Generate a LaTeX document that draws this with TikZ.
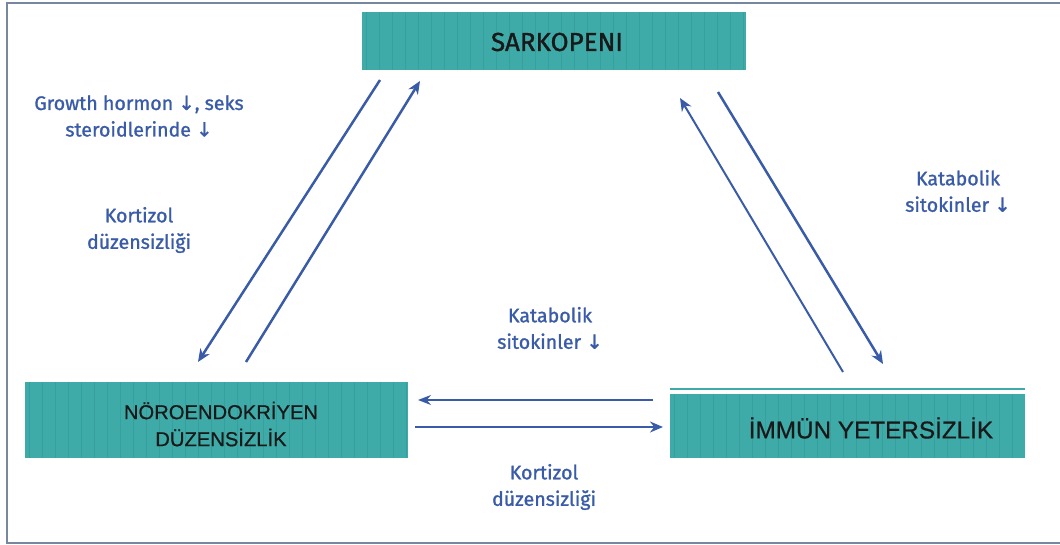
\documentclass[tikz,border=0pt]{standalone}
\usepackage{fontspec}
\setmainfont{Fira Sans}[FakeBold=1.2]
\newfontfamily\boxfont{Liberation Sans}[FakeBold=0.6]
\newfontfamily\symfont{DejaVu Sans}[FakeBold=1]
\usetikzlibrary{arrows.meta}
\definecolor{teal1}{RGB}{62,171,169}
\definecolor{teal2}{RGB}{40,140,140}
\definecolor{lblue}{RGB}{58,92,168}
\definecolor{frame}{RGB}{120,135,160}
\newcommand{\dn}{{\symfont\char"2193}}
\newcommand{\mystripes}[4]{%
  \begin{scope}
    \clip (#1,#2) rectangle (#3,#4);
    \foreach \xx in {0,13,...,400}{
      \draw[teal2,line width=0.8pt,opacity=0.35] ({#1+\xx+4},#2) -- ({#1+\xx+4},#4);
    }
  \end{scope}}
\tikzset{
  boxst/.style={rectangle,fill=teal1,draw=none,inner sep=0pt,align=center,text=black!90},
  lbl/.style={text=lblue,font=\fontsize{19.6}{26.5}\selectfont,align=center,inner sep=0pt},
  arr/.style={draw=lblue,line width=2.5pt,-{Stealth[length=13pt,width=11pt]}},
  arrthin/.style={draw=lblue,line width=1.2pt,-{Stealth[length=13pt,width=10pt]}},
}
\begin{document}
\begin{tikzpicture}[x=1pt,y=-1pt]
\useasboundingbox (0,0) rectangle (1060,545);
\draw[frame,line width=1.6pt] (1070,3) -- (7,3) -- (7,543) -- (1070,543);
% boxes
\node[boxst,minimum width=384pt,minimum height=58pt] (sark) at (554,41) {};
\mystripes{362}{12}{746}{70}
\node[font=\fontsize{26}{28}\selectfont,text=black!90] (sarkt) at (557,42) {SARKOPENI};
\node[boxst,minimum width=383pt,minimum height=76pt] (neuro) at (216.5,420) {};
\mystripes{25}{382}{408}{458}
\node[font=\boxfont\fontsize{20.2}{27}\selectfont,text=black!90,align=center] (neurot) at (221,424) {NÖROENDOKRİYEN\\DÜZENSİZLİK};
\node[boxst,minimum width=355pt,minimum height=64pt] (immun) at (847.5,426) {};
\mystripes{670}{394}{1025}{458}
\draw[teal1,line width=1.5pt] ([yshift=5pt]immun.north west) -- ([yshift=5pt]immun.north east);
\node[font=\boxfont\fontsize{24.3}{26}\selectfont,text=black!90] (immunt) at (871,428) {İMMÜN YETERSİZLİK};
% arrow end points
\coordinate (a1s) at (380,80);
\coordinate (a1e) at (198,362);
\coordinate (a2s) at (246,362);
\coordinate (a2e) at (420,81);
\coordinate (b1s) at (843,372);
\coordinate (b1e) at (680,98);
\coordinate (b2s) at (718,92);
\coordinate (b2e) at (883,364);
\coordinate (h1s) at (653,400);
\coordinate (h1e) at (418,400);
\coordinate (h2s) at (415,427);
\coordinate (h2e) at (663,427);
\draw[arr] (a1s) -- (a1e);
\draw[arr] (a2s) -- (a2e);
\draw[arr,line width=2pt] (b1s) -- (b1e);
\draw[arr] (b2s) -- (b2e);
\draw[arrthin] (h1s) -- (h1e);
\draw[arr,line width=2.8pt] (h2s) -- (h2e);
% labels
\node[lbl] (l1) at (139,116) {Growth hormon \dn, seks\\steroidlerinde \dn};
\node[lbl] (l2) at (139,230) {Kortizol\\düzensizliği};
\node[lbl] (l3) at (958,191) {Katabolik\\sitokinler \dn};
\node[lbl] (l4) at (550,328) {Katabolik\\sitokinler \dn};
\node[lbl] (l5) at (544,487) {Kortizol\\düzensizliği};
\end{tikzpicture}
\end{document}
